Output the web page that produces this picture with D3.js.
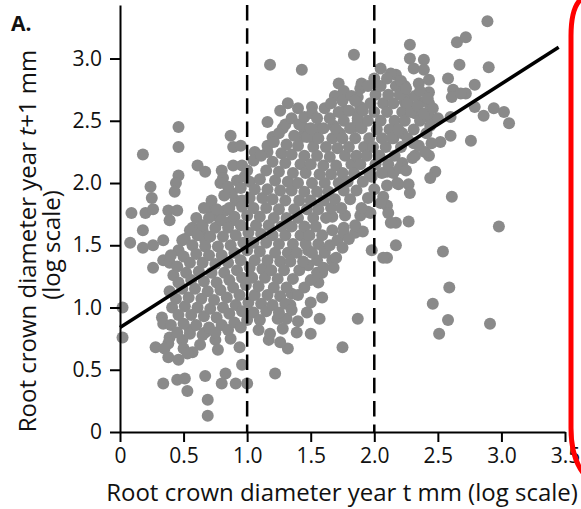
<!DOCTYPE html>
<html>
<head>
<meta charset="utf-8">
<script src="https://cdn.jsdelivr.net/npm/d3@7"></script>
<style>
  body { margin: 0; background: #fff; }
  text { font-family: "Open Sans", "Noto Sans", sans-serif; }
</style>
</head>
<body>
<svg id="chart" width="581" height="509"></svg>
<script>
// Tick values for both axes
let xTicks = [0, 0.5, 1.0, 1.5, 2.0, 2.5, 3.0, 3.5];
let yTicks = [0, 0.5, 1.0, 1.5, 2.0, 2.5, 3.0];
let cutoffs = [1.0, 2.0];

// Fitted line end points (x, y)
let fitX = [0, 3.45];
let fitY = [0.84, 3.09];

// Scattered points, [x, y]
let leftPoints = [
  [0.02,1.00],[0.02,0.76],[0.18,2.23],[0.46,2.45],[0.46,2.29],[0.87,2.38],[0.89,2.29],[0.95,2.30],
  [0.61,2.14],[0.67,2.09],[0.46,2.06],[0.44,2.00],[0.43,1.93],[0.24,1.97],[0.25,1.88],[0.09,1.76],
  [0.20,1.76],[0.26,1.79],[0.18,1.62],[0.08,1.52],[0.18,1.48],[0.26,1.50],[0.34,1.54],[0.38,1.78],
  [0.45,1.78],[0.39,1.70],[0.80,2.10],[0.81,2.04],[0.89,2.14],[0.96,2.14],[0.26,1.32],[0.34,1.38],
  [0.39,1.36],[0.49,1.54],[0.46,1.46],[0.57,1.64],[0.65,1.62],[0.67,1.54],[0.72,1.78],[0.77,1.73],
  [0.83,1.78],[0.87,1.69],[0.91,1.86],[0.96,1.86],[0.88,1.92],[0.98,2.05],[1.02,2.01],[0.79,2.00]
];

let lowerPoints = [
  [0.33,0.92],[0.34,0.87],[0.39,0.76],[0.38,0.71],[0.28,0.68],[0.35,0.67],[0.38,0.60],[0.46,0.58],
  [0.49,0.74],[0.50,0.67],[0.57,0.64],[0.53,0.63],[0.34,0.39],[0.45,0.42],[0.51,0.43],[0.53,0.33],
  [0.67,0.45],[0.69,0.26],[0.69,0.13],[0.67,0.80],[0.75,0.74],[0.77,0.66],[0.87,0.75],[0.94,0.68],
  [0.96,0.54],[0.83,0.47],[0.80,0.39],[0.91,0.39],[1.00,0.39],[1.22,0.47],[0.63,0.70],[0.55,0.82],
  [1.75,0.68],[1.87,0.91],[1.59,1.08],[1.50,1.04],[1.57,0.91],[1.50,0.79],[1.32,0.67],[1.26,0.72],
  [1.17,0.74],[1.39,0.80],[1.40,0.89],[1.47,0.96],[1.28,0.83],[1.24,0.91],[1.31,0.91],[1.34,1.02],
  [1.35,1.11],[1.18,0.79],[1.09,0.82]
];

let rightPoints = [
  [2.10,1.40],[2.54,1.45],[2.59,1.16],[2.46,1.03],[2.58,0.90],[2.51,0.79],[2.91,0.87],[2.22,2.16],
  [2.32,2.22],[2.43,2.22],[2.48,2.09],[2.44,2.04],[2.19,1.99],[2.27,1.99],[2.28,1.92],[2.61,1.89],
  [2.27,1.69],[2.17,1.68],[2.98,1.65],[2.17,1.50],[1.98,1.46],[2.07,1.40],[2.15,2.36],[2.31,2.32],
  [1.98,2.05],[2.10,2.09],[2.18,2.00],[2.07,1.89],[2.10,1.82],[2.11,1.76],[1.95,1.77],[2.13,1.68],
  [1.67,1.62],[1.76,1.64],[1.85,1.60],[1.91,1.61],[1.67,1.38],[1.68,1.32],[1.61,1.44],[1.48,1.46],
  [1.48,1.34],[1.55,1.38],[1.59,1.28],[1.56,1.20],[1.67,1.73],[1.77,1.74],[1.89,1.74],[1.97,1.76]
];

let upperPoints = [
  [2.89,3.30],[2.65,3.13],[2.72,3.17],[2.28,3.11],[2.28,3.00],[2.39,2.99],[2.31,2.92],[2.39,2.91],
  [2.67,2.95],[2.90,2.93],[2.58,2.84],[2.62,2.75],[2.72,2.72],[2.79,2.79],[2.61,2.69],[2.68,2.72],
  [2.24,2.78],[2.35,2.80],[2.43,2.83],[2.43,2.73],[2.79,2.61],[2.86,2.54],[2.94,2.60],[3.02,2.57],
  [3.06,2.48],[2.27,2.68],[2.36,2.65],[2.43,2.64],[2.32,2.56],[2.43,2.53],[2.50,2.52],[2.60,2.53],
  [2.60,2.38],[2.76,2.34],[2.44,2.46],[2.52,2.33],[2.17,2.87],[1.84,3.03],[1.18,2.95],[1.43,2.91],
  [2.05,2.92],[2.13,2.88],[1.72,2.80],[1.76,2.74],[1.69,2.70],[1.89,2.76],[1.87,2.69],[1.32,2.64],
  [1.40,2.60],[1.51,2.61],[1.26,2.58],[1.16,2.49],[1.28,2.44],[1.20,2.37],[1.44,2.45],[1.43,2.37],
  [1.56,2.44],[1.52,2.36],[1.68,2.46],[1.73,2.40],[1.77,2.58],[1.85,2.45],[1.87,2.50],[1.89,2.61],
  [1.87,2.56],[1.16,2.25],[1.06,2.25],[2.24,2.65],[2.22,2.40]
];

let corePoints = [
  [0.40,0.86],[0.41,1.00],[0.39,1.13],[0.42,1.26],[0.40,1.42],
  [0.45,0.80],[0.46,0.94],[0.44,1.07],[0.46,1.20],[0.45,1.33],
  [0.50,0.87],[0.51,1.01],[0.49,1.15],[0.52,1.28],[0.50,1.41],[0.51,1.55],
  [0.55,0.79],[0.56,0.94],[0.54,1.08],[0.56,1.22],[0.55,1.36],[0.57,1.50],[0.55,1.62],
  [0.60,0.86],[0.61,1.00],[0.59,1.15],[0.62,1.29],[0.60,1.43],[0.61,1.58],[0.60,1.72],
  [0.65,0.78],[0.66,0.93],[0.64,1.07],[0.66,1.21],[0.65,1.36],[0.67,1.49],[0.65,1.66],[0.66,1.80],
  [0.70,0.84],[0.71,0.99],[0.69,1.13],[0.72,1.28],[0.70,1.42],[0.71,1.57],[0.70,1.72],[0.72,1.86],
  [0.75,0.80],[0.76,0.92],[0.74,1.06],[0.76,1.20],[0.75,1.35],[0.77,1.49],[0.75,1.64],[0.76,1.79],
  [0.80,0.86],[0.81,1.00],[0.79,1.14],[0.82,1.28],[0.80,1.42],[0.81,1.57],[0.80,1.70],[0.82,1.90],
  [0.85,0.82],[0.86,0.95],[0.84,1.08],[0.86,1.22],[0.85,1.36],[0.87,1.50],[0.85,1.64],[0.86,1.80],[0.85,1.97],
  [0.90,0.88],[0.91,1.02],[0.89,1.16],[0.92,1.30],[0.90,1.44],[0.91,1.58],[0.90,1.73],[0.92,2.02],
  [0.95,0.84],[0.96,0.97],[0.94,1.10],[0.96,1.24],[0.95,1.38],[0.97,1.52],[0.95,1.66],[0.96,1.81],[0.95,1.96],
  [1.00,0.90],[1.01,1.04],[0.99,1.18],[1.02,1.32],[1.00,1.46],[1.01,1.60],[1.00,1.74],[1.02,1.88],[1.00,2.10],
  [1.05,0.96],[1.06,1.10],[1.04,1.24],[1.06,1.38],[1.05,1.52],[1.07,1.66],[1.05,1.80],[1.06,1.95],[1.05,2.18],
  [1.10,0.90],[1.11,1.03],[1.09,1.17],[1.12,1.31],[1.10,1.45],[1.11,1.59],[1.10,1.73],[1.12,1.88],[1.10,2.03],[1.11,2.22],
  [1.15,0.97],[1.16,1.10],[1.14,1.24],[1.16,1.38],[1.15,1.52],[1.17,1.66],[1.15,1.80],[1.16,1.95],[1.15,2.10],[1.16,2.30],
  [1.20,1.02],[1.21,1.16],[1.19,1.30],[1.22,1.44],[1.20,1.58],[1.21,1.72],[1.20,1.87],[1.22,2.02],[1.20,2.17],[1.21,2.33],
  [1.25,0.96],[1.26,1.09],[1.24,1.23],[1.26,1.37],[1.25,1.51],[1.27,1.65],[1.25,1.79],[1.26,1.94],[1.25,2.09],[1.27,2.24],[1.25,2.40],
  [1.30,1.03],[1.31,1.16],[1.29,1.30],[1.32,1.44],[1.30,1.58],[1.31,1.72],[1.30,1.86],[1.32,2.01],[1.30,2.16],[1.31,2.31],[1.30,2.47],
  [1.35,0.98],[1.36,1.23],[1.34,1.37],[1.36,1.51],[1.35,1.65],[1.37,1.79],[1.35,1.94],[1.36,2.08],[1.35,2.23],[1.37,2.38],[1.35,2.52],
  [1.40,1.10],[1.41,1.30],[1.39,1.44],[1.42,1.58],[1.40,1.72],[1.41,1.86],[1.40,2.00],[1.42,2.15],[1.40,2.30],[1.41,2.47],
  [1.45,1.16],[1.44,1.37],[1.46,1.51],[1.45,1.65],[1.47,1.79],[1.45,1.93],[1.46,2.08],[1.45,2.22],[1.47,2.37],[1.45,2.53],
  [1.50,1.22],[1.51,1.44],[1.49,1.58],[1.52,1.72],[1.50,1.86],[1.51,2.00],[1.50,2.15],[1.52,2.29],[1.50,2.44],[1.51,2.56],
  [1.55,1.28],[1.56,1.51],[1.54,1.65],[1.56,1.79],[1.55,1.93],[1.57,2.07],[1.55,2.22],[1.56,2.36],[1.55,2.52],
  [1.60,1.32],[1.61,1.46],[1.59,1.58],[1.62,1.72],[1.60,1.86],[1.61,2.00],[1.60,2.14],[1.62,2.29],[1.60,2.44],[1.61,2.60],
  [1.65,1.50],[1.66,1.80],[1.64,1.93],[1.66,2.07],[1.65,2.21],[1.67,2.36],[1.65,2.52],[1.66,2.64],
  [1.70,1.40],[1.71,1.54],[1.69,1.87],[1.72,2.00],[1.70,2.14],[1.71,2.28],[1.70,2.43],[1.72,2.57],
  [1.75,1.48],[1.76,1.60],[1.74,1.80],[1.76,1.94],[1.75,2.08],[1.77,2.22],[1.75,2.36],[1.76,2.50],[1.75,2.66],
  [1.80,1.55],[1.81,1.87],[1.79,2.01],[1.82,2.15],[1.80,2.29],[1.81,2.44],[1.80,2.58],[1.82,2.70],
  [1.85,1.66],[1.86,1.94],[1.84,2.08],[1.86,2.22],[1.85,2.36],[1.87,2.52],[1.85,2.66],
  [1.90,1.80],[1.91,2.01],[1.89,2.15],[1.92,2.29],[1.90,2.44],[1.91,2.58],[1.90,2.80],
  [1.95,1.88],[1.96,2.08],[1.94,2.22],[1.96,2.36],[1.95,2.50],[1.97,2.64],[1.95,2.78],
  [2.00,1.95],[2.01,2.15],[1.99,2.29],[2.02,2.43],[2.00,2.57],[2.01,2.71],[2.00,2.84],
  [2.05,1.84],[2.06,2.08],[2.04,2.22],[2.06,2.36],[2.05,2.50],[2.07,2.64],[2.05,2.78],
  [2.10,1.98],[2.11,2.15],[2.09,2.29],[2.12,2.43],[2.10,2.57],[2.11,2.71],[2.10,2.84],
  [2.15,2.08],[2.16,2.22],[2.14,2.36],[2.16,2.50],[2.15,2.64],[2.17,2.78],
  [2.20,2.12],[2.21,2.29],[2.19,2.43],[2.22,2.57],[2.20,2.71],[2.21,2.82],
  [2.25,2.10],[2.26,2.36],[2.24,2.50],[2.26,2.64],[2.25,2.76],
  [2.30,2.20],[2.31,2.43],[2.29,2.57],[2.32,2.70],
  [2.35,2.30],[2.36,2.50],[2.34,2.62],[2.36,2.74],
  [2.40,2.25],[2.41,2.40],[2.39,2.56],[2.42,2.68],
  [2.45,2.32],[2.46,2.60]
];

let allPoints = leftPoints.concat(lowerPoints, rightPoints, upperPoints, corePoints);

// Layout
let svg = d3.select("svg#chart");
let margin = { "top": 5, "left": 120, "bottom": 77, "right": 16 };
let xMax = 3.5;
let yMax = 3.43;
let pointColor = "#8a8a8a";
let pointRadius = 6;

const xScale = d3.scaleLinear()
  .domain([0, xMax])
  .range([margin.left, 565]);

const yScale = d3.scaleLinear()
  .domain([0, yMax])
  .range([432, margin.top]);

// Points
svg.append("g")
  .selectAll("circle")
  .data(allPoints)
  .join("circle")
    .attr("cx", d => xScale(d[0]))
    .attr("cy", d => yScale(d[1]))
    .attr("r", pointRadius)
    .attr("fill", pointColor);

// Dashed cut-off lines
svg.append("g")
  .selectAll("line")
  .data(cutoffs)
  .join("line")
    .attr("x1", d => xScale(d))
    .attr("x2", d => xScale(d))
    .attr("y1", yScale(yMax))
    .attr("y2", yScale(0))
    .attr("stroke", "#000")
    .attr("stroke-width", 2.5)
    .attr("stroke-dasharray", "15.5,7.8");

// Fitted line
svg.append("line")
  .attr("x1", xScale(fitX[0]))
  .attr("y1", yScale(fitY[0]))
  .attr("x2", xScale(fitX[1]))
  .attr("y2", yScale(fitY[1]))
  .attr("stroke", "#000")
  .attr("stroke-width", 3.5);

// Axes
let tickFmt = d => d === 0 ? "0" : d3.format(".1f")(d);

let leftAxis = d3.axisLeft(yScale).tickValues(yTicks).tickFormat(tickFmt)
  .tickSize(10).tickSizeOuter(0).tickPadding(8);
let bottomAxis = d3.axisBottom(xScale).tickValues(xTicks).tickFormat(tickFmt)
  .tickSize(10).tickSizeOuter(0).tickPadding(6);

let gy = svg.append("g")
  .attr("transform", "translate(" + margin.left + ",0)")
  .call(leftAxis);
let gx = svg.append("g")
  .attr("transform", "translate(0,432)")
  .call(bottomAxis);

[gx, gy].forEach(g => {
  g.selectAll("path, line").attr("stroke", "#000").attr("stroke-width", 2);
  g.selectAll("text")
    .attr("font-family", "'Open Sans', sans-serif")
    .attr("font-size", "21px")
    .attr("fill", "#111");
});

// Axis titles
svg.append("text")
  .attr("x", 342)
  .attr("y", 501)
  .attr("text-anchor", "middle")
  .attr("font-size", "24px")
  .attr("fill", "#111")
  .text("Root crown diameter year t mm (log scale)");

let yTitle = svg.append("text")
  .attr("transform", "translate(36,241) rotate(-90)")
  .attr("text-anchor", "middle")
  .attr("font-size", "24px")
  .attr("fill", "#111");
yTitle.append("tspan").text("Root crown diameter year ");
yTitle.append("tspan").attr("font-style", "italic").text("t");
yTitle.append("tspan").text("+1 mm");

svg.append("text")
  .attr("transform", "translate(60,245) rotate(-90)")
  .attr("text-anchor", "middle")
  .attr("font-size", "24px")
  .attr("fill", "#111")
  .text("(log scale)");

// Panel letter
svg.append("text")
  .attr("x", 11)
  .attr("y", 31)
  .attr("font-size", "21px")
  .attr("font-weight", "bold")
  .attr("fill", "#111")
  .text("A.");

// Red frame edge of the next panel
svg.append("path")
  .attr("d", "M584,-3 Q571,4 571,36 L571,428 Q571,458 584,474")
  .attr("fill", "none")
  .attr("stroke", "#ff0000")
  .attr("stroke-width", 5);
</script>
</body>
</html>
